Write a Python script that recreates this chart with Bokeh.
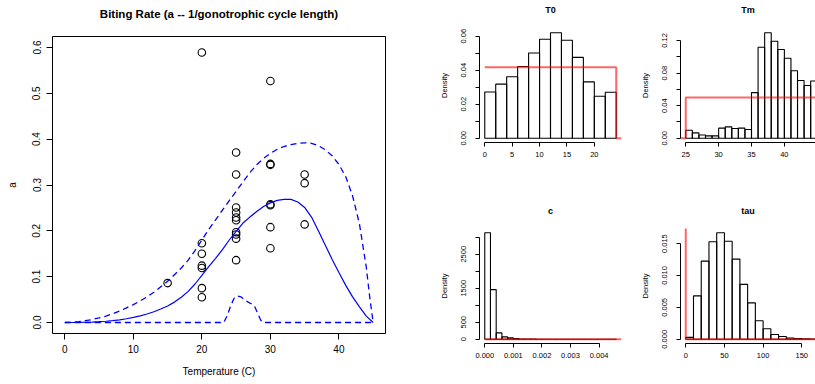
import numpy as np
from bokeh.plotting import figure
from bokeh.layouts import row, column
from bokeh.models import Range1d, FixedTicker, PrintfTickFormatter
from bokeh.embed import file_html
from bokeh.resources import INLINE

FONT = "Liberation Sans"

# ---------------- main panel data ----------------
obs_temp = [20, 30, 25, 25, 30, 30, 35, 35, 35, 30, 30, 30, 30,
            25, 25, 25, 25, 25, 25, 25, 25, 20, 20, 20, 20, 20, 20, 15]
obs_a = [0.589, 0.527, 0.371, 0.323, 0.346, 0.344, 0.323, 0.304, 0.214, 0.258, 0.256, 0.208, 0.162,
         0.251, 0.240, 0.229, 0.223, 0.197, 0.192, 0.183, 0.136, 0.173, 0.150, 0.124, 0.119, 0.075, 0.055, 0.086]

mean_temp = [0, 1, 2, 3, 4, 5, 6, 7, 8, 9, 10, 11, 12, 13, 14, 15, 16, 17, 18, 19, 20, 21, 22,
             23, 24, 25, 26, 27, 28, 29, 30, 31, 32, 33, 34, 35, 36, 37, 38, 39, 40, 41, 42, 43, 44, 45]
mean_a = [0.0, 0.0, 0.0002, 0.0005, 0.0010, 0.0017, 0.0027, 0.0040, 0.0058, 0.0082, 0.0112, 0.0145,
          0.0185, 0.0235, 0.0295, 0.0360, 0.0445, 0.0550, 0.0680, 0.0840, 0.1030, 0.1220, 0.1400,
          0.1590, 0.1800, 0.1990, 0.2170, 0.2300, 0.2420, 0.2530, 0.2610, 0.2665, 0.2685, 0.2685,
          0.2630, 0.2510, 0.2300, 0.2000, 0.1690, 0.1380, 0.1090, 0.0810, 0.0560, 0.0340, 0.0140, 0.0]

upper_temp = [0, 1, 2, 3, 4, 5, 6, 7, 8, 9, 10, 11, 12, 13, 14, 15, 16, 17, 18, 19, 20, 21, 22,
              23, 24, 25, 26, 27, 28, 29, 30, 31, 32, 33, 34, 35, 36, 37, 38, 39, 40, 41, 42, 43, 44, 44.5, 45]
upper_a = [0.0, 0.0005, 0.002, 0.004, 0.0065, 0.010, 0.014, 0.019, 0.025, 0.032, 0.039, 0.047, 0.056,
           0.066, 0.078, 0.090, 0.104, 0.119, 0.136, 0.157, 0.180, 0.203, 0.224, 0.245, 0.266, 0.286,
           0.307, 0.327, 0.344, 0.358, 0.369, 0.378, 0.384, 0.388, 0.391, 0.392, 0.391, 0.386, 0.377,
           0.364, 0.345, 0.318, 0.276, 0.215, 0.120, 0.055, 0.0]

lower_temp = [0, 23.2, 23.7, 24.2, 24.7, 25.2, 25.7, 26.2, 26.7, 27.2, 27.7, 28.2, 28.6, 29.0, 45]
lower_a = [0.0, 0.0, 0.015, 0.036, 0.053, 0.058, 0.056, 0.050, 0.045, 0.041, 0.035, 0.018, 0.005, 0.0, 0.0]

main_title = "Biting Rate (a -- 1/gonotrophic cycle length)"
main_xticks = [0, 10, 20, 30, 40]
main_yticks = [0.0, 0.1, 0.2, 0.3, 0.4, 0.5, 0.6]
main_xlim = (0, 45)
main_ylim = (0, 0.6)

# ---------------- histogram data ----------------
T0_edges = [0, 2, 4, 6, 8, 10, 12, 14, 16, 18, 20, 22, 24]
T0_density = [0.0272, 0.0318, 0.0361, 0.0422, 0.0501, 0.0582, 0.0620, 0.0576, 0.0475, 0.0331, 0.0247, 0.0270]
T0_prior = (0, 24)

Tm_edges = [25, 26, 27, 28, 29, 30, 31, 32, 33, 34, 35, 36, 37, 38, 39, 40, 41, 42, 43, 44, 45]
Tm_density = [0.0099, 0.0066, 0.0041, 0.0029, 0.0029, 0.0124, 0.0140, 0.0120, 0.0124, 0.0107,
              0.0560, 0.1117, 0.1295, 0.1191, 0.1089, 0.0981, 0.0829, 0.0709, 0.0647, 0.0703]
Tm_prior = (25, 45)

c_edges = [0.0, 0.0002, 0.0004, 0.0006, 0.0008, 0.0010, 0.0012, 0.0014, 0.0016, 0.0018, 0.0020,
           0.0022, 0.0024, 0.0026, 0.0028, 0.0030, 0.0032, 0.0034, 0.0036, 0.0038, 0.0040,
           0.0042, 0.0044, 0.0046]
c_density = [3131, 1459, 187, 69, 40, 18, 8, 4, 2, 1, 1, 0, 0, 0, 0, 0, 0, 0, 0, 0, 0, 0, 1]
c_prior = (0, 10)

tau_edges = [0, 10, 20, 30, 40, 50, 60, 70, 80, 90, 100, 110, 120, 130, 140, 150, 160, 170]
tau_density = [0.0003, 0.0068, 0.01225, 0.0153, 0.0167, 0.01537, 0.01257, 0.0086, 0.0057, 0.0029,
               0.00164, 0.00074, 0.00042, 0.0002, 0.0001, 0.00005, 0.00002]


def expand(lo, hi):
    d = (hi - lo) * 0.04
    return lo - d, hi + d


def style_axes(p, fs, tick_out, lab_standoff, axlab_standoff):
    for ax in (p.xaxis[0], p.yaxis[0]):
        ax.axis_line_color = "black"
        ax.major_tick_line_color = "black"
        ax.minor_tick_line_color = "black"
        ax.major_tick_out = tick_out
        ax.major_tick_in = 0
        ax.minor_tick_out = tick_out
        ax.minor_tick_in = 0
        ax.major_label_text_font = FONT
        ax.major_label_text_font_size = fs
        ax.major_label_text_color = "black"
        ax.axis_label_text_font = FONT
        ax.axis_label_text_font_size = fs
        ax.axis_label_text_font_style = "normal"
        ax.axis_label_text_color = "black"
        ax.major_label_standoff = lab_standoff
        ax.axis_label_standoff = axlab_standoff
    p.yaxis[0].major_label_orientation = "parallel"


def set_title(p, text, size, pad_bottom):
    p.title.text = text
    p.title.align = "center"
    p.title.text_font = FONT
    p.title.text_font_size = size
    p.title.text_font_style = "bold"
    p.title.text_color = "black"
    p.title.standoff = 0
    p.title.padding = (0, 0, 0, pad_bottom)


# ---------------- main figure ----------------
mx = expand(*main_xlim)
my = expand(*main_ylim)
pm = figure(width=410, height=384, x_range=Range1d(*mx), y_range=Range1d(*my),
            output_backend="svg", toolbar_location=None,
            min_border_left=52, min_border_right=25, min_border_top=36, min_border_bottom=51)
set_title(pm, main_title, "11.5px", 17)
pm.grid.visible = False
pm.outline_line_color = "black"
pm.outline_line_width = 1
pm.outline_line_alpha = 1
pm.background_fill_color = "white"
pm.border_fill_color = "white"
pm.xaxis.axis_label = "Temperature (C)"
pm.yaxis.axis_label = "a"
pm.xaxis.ticker = FixedTicker(ticks=main_xticks, minor_ticks=[])
pm.yaxis.ticker = FixedTicker(ticks=main_yticks, minor_ticks=[])
pm.yaxis.formatter = PrintfTickFormatter(format="%.1f")
style_axes(pm, "10px", 6, 5, 10)
pm.yaxis[0].axis_label_standoff = 12
pm.yaxis[0].major_label_standoff = 6
pm.xaxis.bounds = (main_xticks[0], main_xticks[-1])
pm.yaxis.bounds = (main_yticks[0], main_yticks[-1])

pm.scatter(obs_temp, obs_a, marker="circle", size=7.5, fill_color=None,
           line_color="black", line_width=1.1)
pm.line(mean_temp, mean_a, line_color="blue", line_width=1.2)
pm.line(upper_temp, upper_a, line_color="blue", line_width=1.3, line_dash="6 4")
pm.line(lower_temp, lower_a, line_color="blue", line_width=1.3, line_dash="6 4")


# ---------------- histogram panels ----------------
def hist_panel(title, edges, dens, prior_x, prior_y, width, height, bl, br, bb,
               frame_w_full, title_pad, xticks, xfmt, yticks, yminor, yfmt):
    xs, xe = expand(edges[0], edges[-1])
    frame_w = width - bl - br
    xe_vis = xs + (xe - xs) * frame_w / frame_w_full
    ys, ye = expand(0, max(dens))
    p = figure(width=width, height=height, x_range=Range1d(xs, xe_vis), y_range=Range1d(ys, ye),
               output_backend="svg", toolbar_location=None,
               min_border_left=bl, min_border_right=br, min_border_top=28, min_border_bottom=bb)
    set_title(p, title, "9px", title_pad)
    p.grid.visible = False
    p.outline_line_color = None
    p.background_fill_color = "white"
    p.border_fill_color = "white"
    p.yaxis.axis_label = "Density"
    p.xaxis.ticker = FixedTicker(ticks=xticks, minor_ticks=[])
    p.yaxis.ticker = FixedTicker(ticks=yticks, minor_ticks=yminor)
    p.xaxis.formatter = PrintfTickFormatter(format=xfmt)
    p.yaxis.formatter = PrintfTickFormatter(format=yfmt)
    style_axes(p, "7.5px", 4, 5, 9)
    p.yaxis[0].major_label_standoff = 9
    p.yaxis[0].axis_label_standoff = 10
    p.xaxis.bounds = (xticks[0], xticks[-1])
    p.yaxis.bounds = (min(yticks + yminor), max(yticks + yminor))
    p.quad(left=edges[:-1], right=edges[1:], bottom=0, top=dens,
           fill_color=None, line_color="black", line_width=1.1)
    px = [xe if v == "end" else (xs if v == "start" else v) for v in prior_x]
    p.line(px, prior_y, line_color="red", line_alpha=0.6, line_width=2)
    return p


dT0 = 1.0 / (T0_prior[1] - T0_prior[0])
p1 = hist_panel("T0", T0_edges, T0_density,
                [T0_prior[0], T0_prior[1], T0_prior[1], "end"], [dT0, dT0, 0, 0],
                220, 200, 69, 9, 58, 142, 14,
                [0, 5, 10, 15, 20], "%d",
                [0.0, 0.02, 0.04, 0.06], [0.01, 0.03, 0.05], "%.2f")

dTm = 1.0 / (Tm_prior[1] - Tm_prior[0])
p2 = hist_panel("Tm", Tm_edges, Tm_density,
                ["start", Tm_prior[0], Tm_prior[0], Tm_prior[1], Tm_prior[1], "end"],
                [0, 0, dTm, dTm, 0, 0],
                185, 200, 50, 0, 58, 142, 14,
                [25, 30, 35, 40, 45], "%d",
                [0.0, 0.04, 0.08, 0.12], [0.02, 0.06, 0.10], "%.2f")

dc = 1.0 / (c_prior[1] - c_prior[0])
p3 = hist_panel("c", c_edges, c_density,
                [0, "end"], [dc, dc],
                220, 184, 69, 9, 41, 142, 13,
                [0.0, 0.001, 0.002, 0.003, 0.004], "%.3f",
                [0, 500, 1500, 2500], [1000, 2000, 3000], "%d")

p4 = hist_panel("tau", tau_edges, tau_density,
                [0, 0, "end"], [1.0, 0.0, 0.0],
                185, 184, 50, 0, 41, 142, 13,
                [0, 50, 100, 150], "%d",
                [0.0, 0.005, 0.010, 0.015], [], "%.3f")

layout = row(pm, column(row(p1, p2), row(p3, p4)))
open("out.html", "w").write(file_html(layout, INLINE))
